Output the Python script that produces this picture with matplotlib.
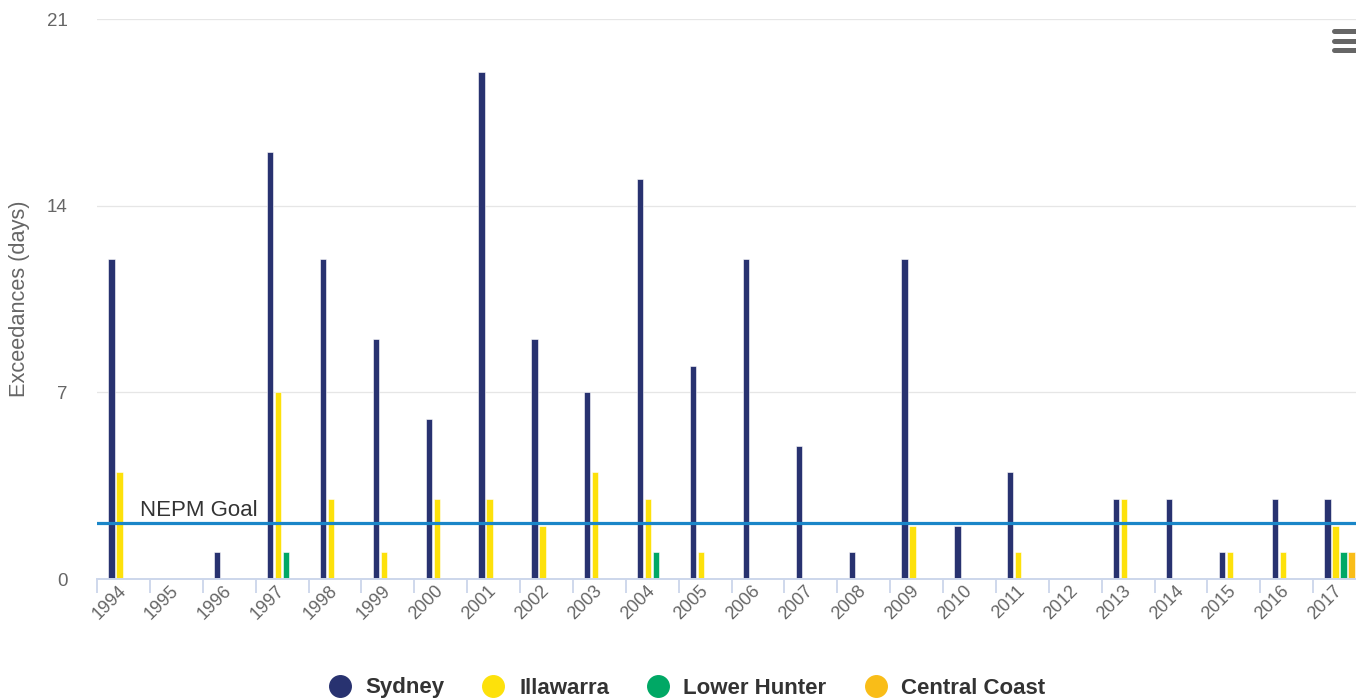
import matplotlib
matplotlib.use("Agg")
import matplotlib.pyplot as plt
import numpy as np
from matplotlib.lines import Line2D

plt.rcParams["font.family"] = ["Liberation Sans", "DejaVu Sans"]

YEARS = [str(y) for y in range(1994, 2018)]
SYDNEY = [12, 0, 1, 16, 12, 9, 6, 19, 9, 7, 15, 8, 12, 5, 1, 12, 2, 4, 0, 3, 3, 1, 3, 3]
ILLAWARRA = [4, 0, 0, 7, 3, 1, 3, 3, 2, 4, 3, 1, 0, 0, 0, 2, 0, 1, 0, 3, 0, 1, 1, 2]
LOWER_HUNTER = [0, 0, 0, 1, 0, 0, 0, 0, 0, 0, 1, 0, 0, 0, 0, 0, 0, 0, 0, 0, 0, 0, 0, 1]
CENTRAL_COAST = [0, 0, 0, 0, 0, 0, 0, 0, 0, 0, 0, 0, 0, 0, 0, 0, 0, 0, 0, 0, 0, 0, 0, 1]
SERIES_NAMES = ["Sydney", "Illawarra", "Lower Hunter", "Central Coast"]
COLORS = ["#283270", "#fde10b", "#00a865", "#f9bd18"]
NEPM_GOAL = 2.1
Y_TICKS = [0, 7, 14, 21]

W, H = 1356, 700
fig = plt.figure(figsize=(W / 100, H / 100), dpi=100)
ax = fig.add_axes([97 / W, 121 / H, 1269 / W, 560 / H])

x = np.arange(len(YEARS))
slot = 0.151
series = [SYDNEY, ILLAWARRA, LOWER_HUNTER, CENTRAL_COAST]
for k, (vals, color) in enumerate(zip(series, COLORS)):
    ax.bar(x + (k - 1.5) * slot, vals, width=0.118, color=color,
           edgecolor="white", linewidth=0.4, zorder=3)

ax.axhline(NEPM_GOAL, color="#1a86c8", linewidth=2.3, zorder=5)
ax.annotate("NEPM Goal", xy=(0.034, NEPM_GOAL), xycoords=ax.get_yaxis_transform(),
            xytext=(0, 7), textcoords="offset pixels", ha="left", va="baseline",
            fontsize=16, color="#333333", zorder=6)

ax.set_xlim(-0.5, len(YEARS) - 0.5)
ax.set_ylim(0, 21)

ax.set_yticks(Y_TICKS)
ax.set_yticklabels([str(t) for t in Y_TICKS])
ax.tick_params(axis="y", length=0, pad=21, labelsize=13.5, labelcolor="#666666")
ax.grid(axis="y", color="#e6e6e6", linewidth=0.9, zorder=0)

ax.set_xticks(x)
ax.set_xticklabels(YEARS, rotation=45, ha="right", va="center",
                   rotation_mode="anchor", fontsize=13, color="#666666")
ax.tick_params(axis="x", which="major", length=0, pad=7)
ax.set_xticks(np.arange(len(YEARS) + 1) - 0.5, minor=True)
ax.tick_params(axis="x", which="minor", length=10, width=1.3, color="#ccd6eb")

for side in ["top", "right", "left"]:
    ax.spines[side].set_visible(False)
ax.spines["bottom"].set_color("#ccd6eb")
ax.spines["bottom"].set_linewidth(1.4)
ax.spines["bottom"].set_zorder(4)

fig.text(20 / W, 1 - 299 / H, "Exceedances (days)", rotation=90, ha="center",
         va="center", fontsize=15.7, color="#666666")

handles = [Line2D([], [], marker="o", linestyle="none", markersize=15.5,
                  markerfacecolor=c, markeredgecolor=c) for c in COLORS]
leg = fig.legend(handles, SERIES_NAMES, loc="center", ncol=4,
                 bbox_to_anchor=(687 / W, 12 / H), frameon=False,
                 prop={"size": 16, "weight": "bold"}, handlelength=1.0,
                 handletextpad=0.65, columnspacing=1.7, borderpad=0)
for t in leg.get_texts():
    t.set_color("#333333")

# menu icon
for yy in [31, 40.5, 50]:
    fig.add_artist(Line2D([1334 / W, 1360 / W], [1 - yy / H, 1 - yy / H],
                          transform=fig.transFigure, color="#666666",
                          linewidth=3.6, solid_capstyle="round"))

fig.savefig("out.png", dpi=100)
